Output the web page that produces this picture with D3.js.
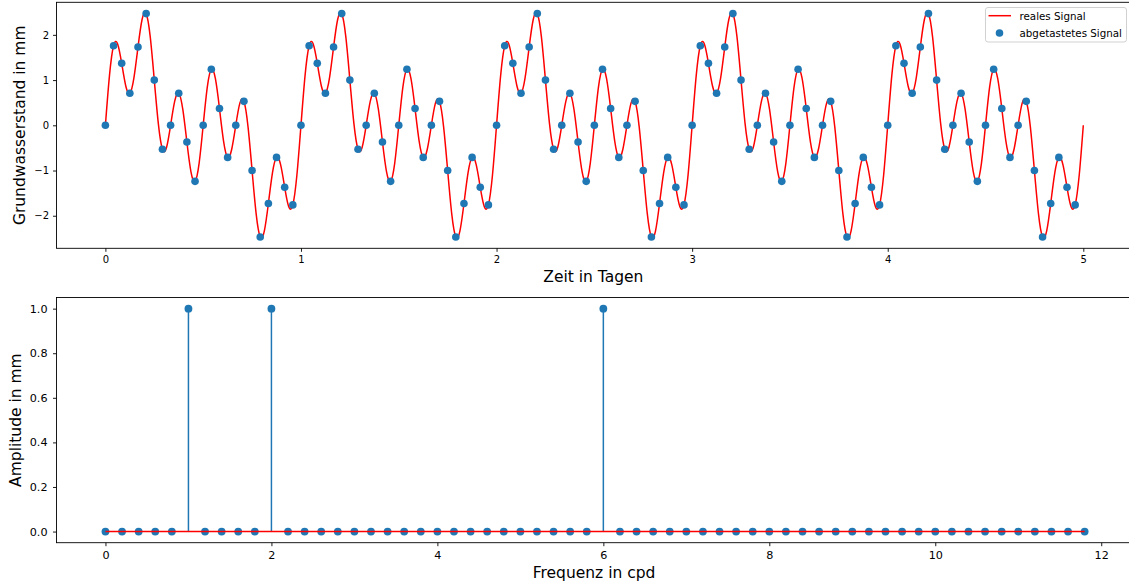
<!DOCTYPE html>
<html>
<head>
<meta charset="utf-8">
<script src="https://cdn.jsdelivr.net/npm/d3@7"></script>
<style>
  html, body { margin: 0; padding: 0; background: #fff; }
  svg { display: block; font-family: "DejaVu Sans", sans-serif; }
  .tick line { stroke: #000; stroke-width: 0.9; }
  .tick text { fill: #000; }
</style>
</head>
<body>
<svg id="chart" width="1129" height="585"></svg>
<script>
// ---- Data -------------------------------------------------------------
// Continuous groundwater signal (mm), one value every 1/48 day, 0..5 days
const signalStep = 1 / 48;
const signalValues = [
  0, 1.10, 1.76, 1.80, 1.37, 0.87, 0.71, 1.05, 1.73, 2.34, 2.47, 1.96, 1.00, 0.03, -0.53, -0.49,
  0, 0.53, 0.71, 0.35, -0.37, -1.03, -1.24, -0.84, 0, 0.84, 1.24, 1.03, 0.37, -0.35, -0.71, -0.53,
  0, 0.49, 0.53, -0.03, -1.00, -1.96, -2.47, -2.34, -1.73, -1.05, -0.71, -0.87, -1.37, -1.80, -1.76, -1.10,
  0, 1.10, 1.76, 1.80, 1.37, 0.87, 0.71, 1.05, 1.73, 2.34, 2.47, 1.96, 1.00, 0.03, -0.53, -0.49,
  0, 0.53, 0.71, 0.35, -0.37, -1.03, -1.24, -0.84, 0, 0.84, 1.24, 1.03, 0.37, -0.35, -0.71, -0.53,
  0, 0.49, 0.53, -0.03, -1.00, -1.96, -2.47, -2.34, -1.73, -1.05, -0.71, -0.87, -1.37, -1.80, -1.76, -1.10,
  0, 1.10, 1.76, 1.80, 1.37, 0.87, 0.71, 1.05, 1.73, 2.34, 2.47, 1.96, 1.00, 0.03, -0.53, -0.49,
  0, 0.53, 0.71, 0.35, -0.37, -1.03, -1.24, -0.84, 0, 0.84, 1.24, 1.03, 0.37, -0.35, -0.71, -0.53,
  0, 0.49, 0.53, -0.03, -1.00, -1.96, -2.47, -2.34, -1.73, -1.05, -0.71, -0.87, -1.37, -1.80, -1.76, -1.10,
  0, 1.10, 1.76, 1.80, 1.37, 0.87, 0.71, 1.05, 1.73, 2.34, 2.47, 1.96, 1.00, 0.03, -0.53, -0.49,
  0, 0.53, 0.71, 0.35, -0.37, -1.03, -1.24, -0.84, 0, 0.84, 1.24, 1.03, 0.37, -0.35, -0.71, -0.53,
  0, 0.49, 0.53, -0.03, -1.00, -1.96, -2.47, -2.34, -1.73, -1.05, -0.71, -0.87, -1.37, -1.80, -1.76, -1.10,
  0, 1.10, 1.76, 1.80, 1.37, 0.87, 0.71, 1.05, 1.73, 2.34, 2.47, 1.96, 1.00, 0.03, -0.53, -0.49,
  0, 0.53, 0.71, 0.35, -0.37, -1.03, -1.24, -0.84, 0, 0.84, 1.24, 1.03, 0.37, -0.35, -0.71, -0.53,
  0, 0.49, 0.53, -0.03, -1.00, -1.96, -2.47, -2.34, -1.73, -1.05, -0.71, -0.87, -1.37, -1.80, -1.76, -1.10,
  0
];

// Sampled signal (mm), 24 samples per day
const sampleStep = 1 / 24;
const sampleValues = [
  0, 1.76, 1.37, 0.71, 1.73, 2.47, 1.00, -0.53, 0, 0.71, -0.37, -1.24,
  0, 1.24, 0.37, -0.71, 0, 0.53, -1.00, -2.47, -1.73, -0.71, -1.37, -1.76,
  0, 1.76, 1.37, 0.71, 1.73, 2.47, 1.00, -0.53, 0, 0.71, -0.37, -1.24,
  0, 1.24, 0.37, -0.71, 0, 0.53, -1.00, -2.47, -1.73, -0.71, -1.37, -1.76,
  0, 1.76, 1.37, 0.71, 1.73, 2.47, 1.00, -0.53, 0, 0.71, -0.37, -1.24,
  0, 1.24, 0.37, -0.71, 0, 0.53, -1.00, -2.47, -1.73, -0.71, -1.37, -1.76,
  0, 1.76, 1.37, 0.71, 1.73, 2.47, 1.00, -0.53, 0, 0.71, -0.37, -1.24,
  0, 1.24, 0.37, -0.71, 0, 0.53, -1.00, -2.47, -1.73, -0.71, -1.37, -1.76,
  0, 1.76, 1.37, 0.71, 1.73, 2.47, 1.00, -0.53, 0, 0.71, -0.37, -1.24,
  0, 1.24, 0.37, -0.71, 0, 0.53, -1.00, -2.47, -1.73, -0.71, -1.37, -1.76
];

// Amplitude spectrum: frequencies (cycles per day) and amplitudes (mm)
const frequencies = [
  0.0, 0.2, 0.4, 0.6, 0.8, 1.0, 1.2, 1.4, 1.6, 1.8, 2.0, 2.2, 2.4, 2.6, 2.8,
  3.0, 3.2, 3.4, 3.6, 3.8, 4.0, 4.2, 4.4, 4.6, 4.8, 5.0, 5.2, 5.4, 5.6, 5.8,
  6.0, 6.2, 6.4, 6.6, 6.8, 7.0, 7.2, 7.4, 7.6, 7.8, 8.0, 8.2, 8.4, 8.6, 8.8,
  9.0, 9.2, 9.4, 9.6, 9.8, 10.0, 10.2, 10.4, 10.6, 10.8, 11.0, 11.2, 11.4, 11.6, 11.8
];
const amplitudes = [
  0, 0, 0, 0, 0, 1, 0, 0, 0, 0, 1, 0, 0, 0, 0,
  0, 0, 0, 0, 0, 0, 0, 0, 0, 0, 0, 0, 0, 0, 0,
  1, 0, 0, 0, 0, 0, 0, 0, 0, 0, 0, 0, 0, 0, 0,
  0, 0, 0, 0, 0, 0, 0, 0, 0, 0, 0, 0, 0, 0, 0
];

// Tick values
const timeTicks = [0, 1, 2, 3, 4, 5];
const levelTicks = [-2, -1, 0, 1, 2];
const freqTicks = [0, 2, 4, 6, 8, 10, 12];
const ampTicks = [0, 0.2, 0.4, 0.6, 0.8, 1.0];

// ---- Drawing ------------------------------------------------------------
const svg = d3.select("#chart");
const BLUE = "#1f77b4";
const RED = "#ff0000";

// Upper panel: time series
const boxT = { left: 56.5, right: 1132.2, top: 2.3, bottom: 248.3 };
const xT = d3.scaleLinear().domain([-0.25, 5.25]).range([boxT.left, boxT.right]);
const yT = d3.scaleLinear().domain([-2.72, 2.72]).range([boxT.bottom, boxT.top]);

svg.append("clipPath").attr("id", "clipTop").append("rect")
  .attr("x", boxT.left).attr("y", boxT.top)
  .attr("width", boxT.right - boxT.left).attr("height", boxT.bottom - boxT.top);

const gTop = svg.append("g");

const signal = signalValues.map((v, i) => [i * signalStep, v]);
gTop.append("path")
  .attr("clip-path", "url(#clipTop)")
  .attr("d", d3.line().x(d => xT(d[0])).y(d => yT(d[1])).curve(d3.curveNatural)(signal))
  .attr("fill", "none").attr("stroke", RED).attr("stroke-width", 1.5);

gTop.selectAll("circle.sample")
  .data(sampleValues.map((v, i) => [i * sampleStep, v]))
  .join("circle").attr("class", "sample")
  .attr("cx", d => xT(d[0])).attr("cy", d => yT(d[1]))
  .attr("r", 3.8).attr("fill", BLUE);

gTop.append("g")
  .attr("transform", `translate(0,${boxT.bottom})`)
  .call(d3.axisBottom(xT).tickValues(timeTicks).tickSize(3.5).tickPadding(4).tickFormat(d3.format("d")))
  .call(g => g.select(".domain").remove())
  .call(g => g.selectAll("text").attr("font-size", 10).attr("font-family", "DejaVu Sans"));

gTop.append("g")
  .attr("transform", `translate(${boxT.left},0)`)
  .call(d3.axisLeft(yT).tickValues(levelTicks).tickSize(3.5).tickPadding(4).tickFormat(d3.format("d")))
  .call(g => g.select(".domain").remove())
  .call(g => g.selectAll("text").attr("font-size", 10).attr("font-family", "DejaVu Sans"));

gTop.append("rect")
  .attr("x", boxT.left).attr("y", boxT.top)
  .attr("width", boxT.right - boxT.left).attr("height", boxT.bottom - boxT.top)
  .attr("fill", "none").attr("stroke", "#000").attr("stroke-width", 0.9);

gTop.append("text")
  .attr("x", (boxT.left + boxT.right) / 2 - 1).attr("y", 282)
  .attr("text-anchor", "middle").attr("font-size", 15.5)
  .text("Zeit in Tagen");

gTop.append("text")
  .attr("transform", `translate(25,${(boxT.top + boxT.bottom) / 2}) rotate(-90)`)
  .attr("text-anchor", "middle").attr("font-size", 15.5)
  .text("Grundwasserstand in mm");

// Legend
const legend = gTop.append("g");
legend.append("rect")
  .attr("x", 985.5).attr("y", 7.5).attr("width", 141).attr("height", 34.5)
  .attr("rx", 2.5).attr("fill", "#fff").attr("fill-opacity", 0.8)
  .attr("stroke", "#cccccc").attr("stroke-width", 0.9);
legend.append("line")
  .attr("x1", 988.5).attr("x2", 1011).attr("y1", 15.7).attr("y2", 15.7)
  .attr("stroke", RED).attr("stroke-width", 1.5);
legend.append("circle")
  .attr("cx", 999.5).attr("cy", 33).attr("r", 3.8).attr("fill", BLUE);
legend.append("text").attr("x", 1019.5).attr("y", 19.5)
  .attr("font-size", 10.3).text("reales Signal");
legend.append("text").attr("x", 1019.5).attr("y", 36.8)
  .attr("font-size", 10.3).text("abgetastetes Signal");

// Lower panel: amplitude spectrum (stem plot)
const boxB = { left: 56.5, right: 1133.6, top: 297.5, bottom: 542.7 };
const xB = d3.scaleLinear().domain([-0.59, 12.39]).range([boxB.left, boxB.right]);
const yB = d3.scaleLinear().domain([-0.05, 1.05]).range([boxB.bottom, boxB.top]);

const gBot = svg.append("g");
const spectrum = frequencies.map((f, i) => ({ f, a: amplitudes[i] }));

gBot.selectAll("line.stem")
  .data(spectrum)
  .join("line").attr("class", "stem")
  .attr("x1", d => xB(d.f)).attr("x2", d => xB(d.f))
  .attr("y1", yB(0)).attr("y2", d => yB(d.a))
  .attr("stroke", BLUE).attr("stroke-width", 1.5);

gBot.selectAll("circle.marker")
  .data(spectrum)
  .join("circle").attr("class", "marker")
  .attr("cx", d => xB(d.f)).attr("cy", d => yB(d.a))
  .attr("r", 3.9).attr("fill", BLUE);

gBot.append("line")
  .attr("x1", xB(d3.min(frequencies))).attr("x2", xB(d3.max(frequencies)))
  .attr("y1", yB(0)).attr("y2", yB(0))
  .attr("stroke", RED).attr("stroke-width", 1.5);

gBot.append("g")
  .attr("transform", `translate(0,${boxB.bottom})`)
  .call(d3.axisBottom(xB).tickValues(freqTicks).tickSize(3.5).tickPadding(5).tickFormat(d3.format("d")))
  .call(g => g.select(".domain").remove())
  .call(g => g.selectAll("text").attr("font-size", 11.2).attr("font-family", "DejaVu Sans"));

gBot.append("g")
  .attr("transform", `translate(${boxB.left},0)`)
  .call(d3.axisLeft(yB).tickValues(ampTicks).tickSize(3.5).tickPadding(5.5).tickFormat(d3.format(".1f")))
  .call(g => g.select(".domain").remove())
  .call(g => g.selectAll("text").attr("font-size", 11.2).attr("font-family", "DejaVu Sans"));

gBot.append("rect")
  .attr("x", boxB.left).attr("y", boxB.top)
  .attr("width", boxB.right - boxB.left).attr("height", boxB.bottom - boxB.top)
  .attr("fill", "none").attr("stroke", "#000").attr("stroke-width", 0.9);

gBot.append("text")
  .attr("x", (boxB.left + boxB.right) / 2 - 1).attr("y", 578)
  .attr("text-anchor", "middle").attr("font-size", 15.5)
  .text("Frequenz in cpd");

gBot.append("text")
  .attr("transform", `translate(21,${(boxB.top + boxB.bottom) / 2}) rotate(-90)`)
  .attr("text-anchor", "middle").attr("font-size", 15.5)
  .text("Amplitude in mm");
</script>
</body>
</html>
